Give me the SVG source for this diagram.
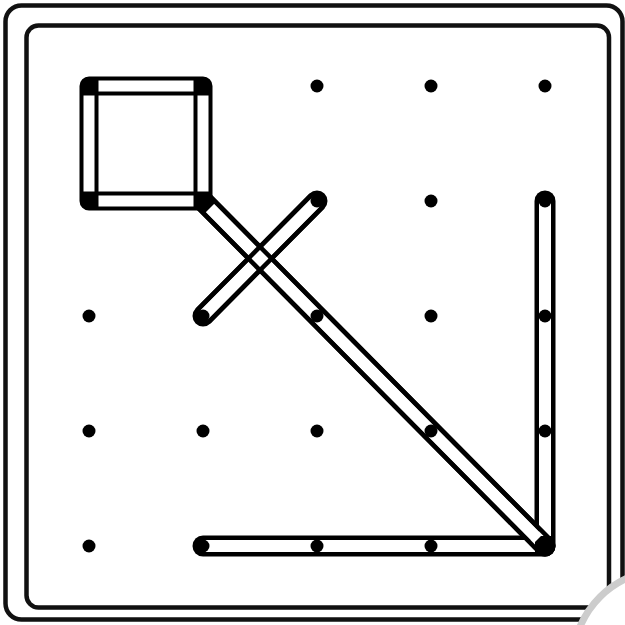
<svg xmlns="http://www.w3.org/2000/svg" width="625" height="625" viewBox="0 0 625 625">
<style>
.frame{fill:none;stroke:#111;stroke-width:4.5}
.bk{stroke:#000;stroke-width:21;stroke-linecap:round;fill:none}
.wh{stroke:#fff;stroke-width:12;stroke-linecap:butt;fill:none}
.edge{stroke:#000;stroke-width:4.5;fill:none}
.peg{fill:#000}
</style>
<rect width="625" height="625" fill="#fff"/>
<g id="frame">
<rect class="frame" x="5.5" y="5.5" width="617" height="614" rx="16"/>
<rect class="frame" x="26.5" y="25.5" width="582.5" height="582" rx="12"/>
</g>
<g id="bands">
<path d="M89,86 H203 V201 H89 Z" stroke="#000" stroke-width="19" stroke-linejoin="round" fill="none"/>
<line class="bk" x1="203" y1="201" x2="545" y2="546"/>
<line class="bk" x1="203" y1="316" x2="317" y2="201"/>
<line class="bk" x1="545" y1="201" x2="545" y2="546"/>
<line class="bk" x1="203" y1="546" x2="545" y2="546"/>
<g stroke="#fff" stroke-width="11">
<line x1="98.5" y1="86" x2="193.5" y2="86"/>
<line x1="98.5" y1="201" x2="193.5" y2="201"/>
<line x1="89" y1="95.5" x2="89" y2="191.5"/>
<line x1="203" y1="95.5" x2="203" y2="191.5"/>
</g>
<line class="wh" x1="210" y1="208" x2="538" y2="539"/>
<line class="wh" x1="203" y1="316" x2="317" y2="201"/>
<line class="wh" x1="545" y1="201" x2="545" y2="536"/>
<line class="wh" x1="203" y1="546" x2="535" y2="546"/>
<line class="edge" x1="208.9" y1="195.2" x2="550.9" y2="540.2"/>
<line class="edge" x1="197.1" y1="206.8" x2="539.1" y2="551.8"/>
<line class="edge" x1="208.9" y1="321.8" x2="322.9" y2="206.8"/>
<line class="edge" x1="197.1" y1="310.2" x2="311.1" y2="195.2"/>
</g>
<g id="pegs" class="peg">
<circle cx="89" cy="86" r="6.5"/><circle cx="203" cy="86" r="6.5"/><circle cx="317" cy="86" r="6.5"/><circle cx="431" cy="86" r="6.5"/><circle cx="545" cy="86" r="6.5"/>
<circle cx="89" cy="201" r="6.5"/><circle cx="203" cy="201" r="6.5"/><circle cx="317" cy="201" r="6.5"/><circle cx="431" cy="201" r="6.5"/><circle cx="545" cy="201" r="6.5"/>
<circle cx="89" cy="316" r="6.5"/><circle cx="203" cy="316" r="6.5"/><circle cx="317" cy="316" r="6.5"/><circle cx="431" cy="316" r="6.5"/><circle cx="545" cy="316" r="6.5"/>
<circle cx="89" cy="431" r="6.5"/><circle cx="203" cy="431" r="6.5"/><circle cx="317" cy="431" r="6.5"/><circle cx="431" cy="431" r="6.5"/><circle cx="545" cy="431" r="6.5"/>
<circle cx="89" cy="546" r="6.5"/><circle cx="203" cy="546" r="6.5"/><circle cx="317" cy="546" r="6.5"/><circle cx="431" cy="546" r="6.5"/><circle cx="545" cy="546" r="6.5"/>
</g>
<circle id="curl" cx="665" cy="662" r="92" fill="#fff" stroke="#ccc" stroke-width="7"/>
</svg>
